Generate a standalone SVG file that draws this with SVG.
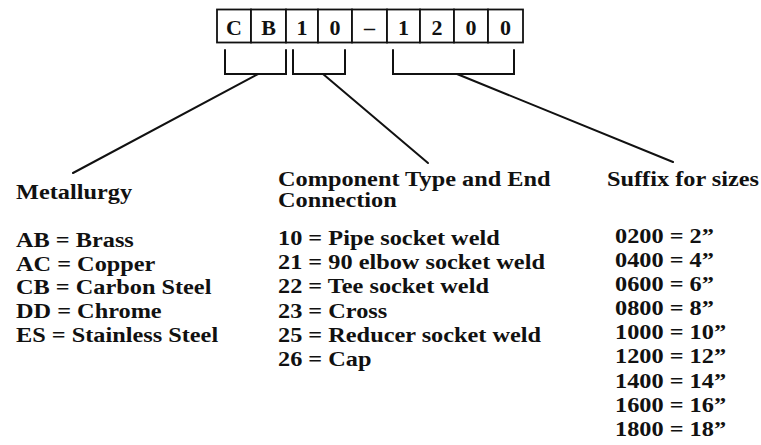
<svg xmlns="http://www.w3.org/2000/svg" width="761" height="445" viewBox="0 0 761 445">
<style>
.box{fill:#fff;stroke:#111;stroke-width:1.8}
.ln{fill:none;stroke:#111;stroke-width:2;stroke-linecap:round;stroke-linejoin:miter}
</style>
<rect width="761" height="445" fill="#fff"/>
<g id="code" font-family="Liberation Serif, Times New Roman, Tinos, serif" font-weight="bold" font-size="22" fill="#111" text-anchor="middle">
<rect class="box" x="217" y="9.5" width="34" height="33"/>
<rect class="box" x="251" y="9.5" width="35" height="33"/>
<rect class="box" x="286" y="9.5" width="32" height="33"/>
<rect class="box" x="318" y="9.5" width="34" height="33"/>
<rect class="box" x="352" y="9.5" width="35" height="33"/>
<rect class="box" x="387" y="9.5" width="33" height="33"/>
<rect class="box" x="420" y="9.5" width="34" height="33"/>
<rect class="box" x="454" y="9.5" width="34" height="33"/>
<rect class="box" x="488" y="9.5" width="35" height="33"/>
<text x="234" y="35">C</text>
<text x="268.5" y="35">B</text>
<text x="302" y="35">1</text>
<text x="335" y="35">0</text>
<text x="369.5" y="35">–</text>
<text x="403.5" y="35">1</text>
<text x="437" y="35">2</text>
<text x="471" y="35">0</text>
<text x="505.5" y="35">0</text>
</g>
<g id="connectors">
<polyline class="ln" points="225,50 225,74 286,74 286,50"/>
<polyline class="ln" points="293,50 293,74 345,74 345,50"/>
<polyline class="ln" points="393,50 393,74 514,74 514,50"/>
<line class="ln" x1="258" y1="74" x2="73" y2="173"/>
<line class="ln" x1="323" y1="74" x2="428" y2="163"/>
<line class="ln" x1="457" y1="74" x2="673" y2="162"/>
</g>
<g font-family="Liberation Serif, Times New Roman, Tinos, serif" font-weight="bold" font-size="20" fill="#111">
<g id="metallurgy" transform="translate(16,0) scale(1.215,1)">
<text x="0" y="199">Metallurgy</text>
<text x="0" y="247">AB = Brass</text>
<text x="0" y="271">AC = Copper</text>
<text x="0" y="294.5">CB = Carbon Steel</text>
<text x="0" y="318">DD = Chrome</text>
<text x="0" y="342">ES = Stainless Steel</text>
</g>
<g id="component" transform="translate(278,0) scale(1.215,1)">
<text x="0" y="186">Component Type and End</text>
<text x="0" y="207">Connection</text>
<text x="0" y="245">10 = Pipe socket weld</text>
<text x="0" y="269">21 = 90 elbow socket weld</text>
<text x="0" y="293.5">22 = Tee socket weld</text>
<text x="0" y="318">23 = Cross</text>
<text x="0" y="342">25 = Reducer socket weld</text>
<text x="0" y="366.5">26 = Cap</text>
</g>
<g id="suffix" transform="translate(607,0) scale(1.215,1)">
<text x="0" y="186">Suffix for sizes</text>
<g transform="translate(6.6,0)">
<text x="0" y="243">0200 = 2”</text>
<text x="0" y="267">0400 = 4”</text>
<text x="0" y="291">0600 = 6”</text>
<text x="0" y="315">0800 = 8”</text>
<text x="0" y="339">1000 = 10”</text>
<text x="0" y="363">1200 = 12”</text>
<text x="0" y="388">1400 = 14”</text>
<text x="0" y="412">1600 = 16”</text>
<text x="0" y="436">1800 = 18”</text>
</g>
</g>
</g>
</svg>
